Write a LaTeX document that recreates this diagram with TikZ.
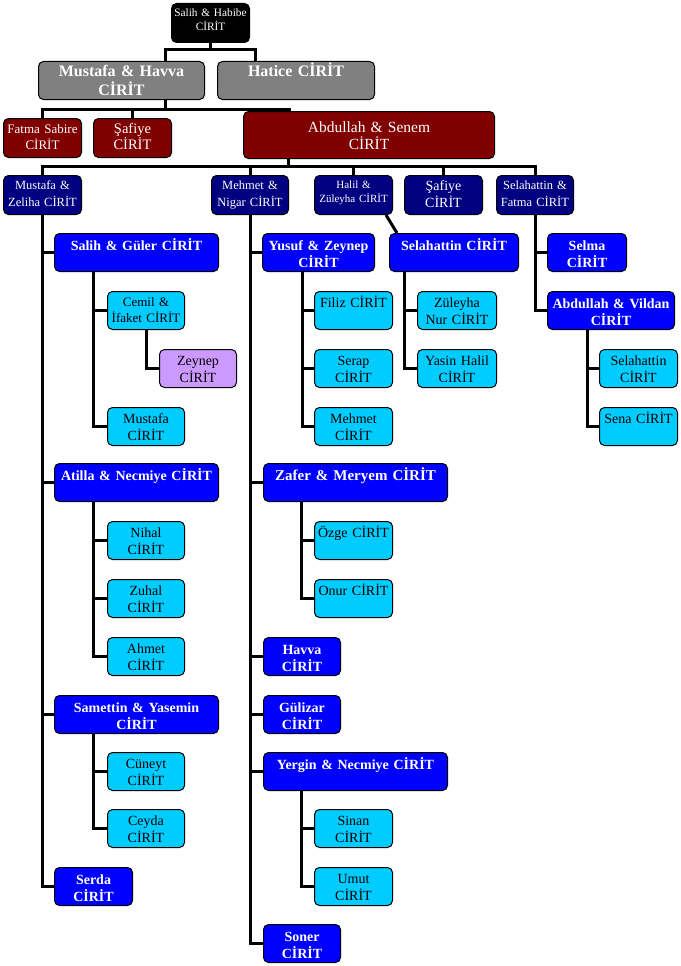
\documentclass[tikz,border=0pt]{standalone}
\usepackage{fontspec}
\setmainfont{Liberation Serif}
\usepackage{tikz}
\usetikzlibrary{calc}
\definecolor{famgray}{HTML}{808080}
\definecolor{maroon}{HTML}{800000}
\definecolor{famnavy}{HTML}{000080}
\definecolor{famblue}{HTML}{0000FF}
\definecolor{famcyan}{HTML}{00CCFF}
\definecolor{lilac}{HTML}{CC99FF}
\tikzset{
  fambox/.style={draw=black, line width=1pt, rounded corners=5pt, anchor=north west,
    inner xsep=2pt, inner ysep=0pt, align=center, text=white, text width=74pt},
  rootbox/.style={fambox, fill=black, font={\fontsize{11.3}{13.5}\selectfont},
    text height=13pt, text depth=26pt},
  graybox/.style={fambox, fill=famgray, font={\bfseries\fontsize{16}{18.5}\selectfont},
    text height=15pt, text depth=23pt},
  maroonbox/.style={fambox, fill=maroon, font={\fontsize{13}{16}\selectfont},
    text height=15pt, text depth=24pt},
  navybox/.style={fambox, fill=famnavy, font={\fontsize{12.5}{17}\selectfont},
    text height=14pt, text depth=25pt},
  bluebox/.style={fambox, fill=famblue, font={\bfseries\fontsize{14}{17}\selectfont},
    text height=17pt, text depth=21pt},
  cyanbox/.style={fambox, fill=famcyan, text=black, font={\fontsize{14}{17}\selectfont},
    text height=16pt, text depth=22pt},
  lilacbox/.style={cyanbox, fill=lilac},
  famline/.style={line width=3pt, black}
}
\begin{document}
\begin{tikzpicture}[x=1pt,y=-1pt]
\useasboundingbox (0,0) rectangle (680,966);
% grandparents and their children
\node[rootbox] (root) at (171,3) {Salih \& Habibe\\CİRİT};
\node[graybox, text width=162pt] (mh) at (38,61) {Mustafa \& Havva\\CİRİT};
\node[graybox, text width=153pt] (hatice) at (217,61) {Hatice CİRİT};
\node[maroonbox] (fatma) at (3,118) {Fatma Sabire\\CİRİT};
\node[maroonbox, font={\fontsize{14.5}{16}\selectfont}] (safiye1) at (93,118) {Şafiye\\CİRİT};
\node[maroonbox, text width=247pt, font={\fontsize{15.5}{17}\selectfont},
  text height=21pt, text depth=26pt] (abdullah) at (243,111) {Abdullah \& Senem\\CİRİT};
% children of Abdullah & Senem
\node[navybox] (mz) at (3,175) {Mustafa \&\\Zeliha CİRİT};
\node[navybox, text width=73pt] (mn) at (211,175) {Mehmet \&\\Nigar CİRİT};
\node[navybox, font={\fontsize{11}{13.5}\selectfont}, text height=13pt, text depth=26pt]
  (hz) at (314,175) {Halil \&\\Züleyha CİRİT};
\node[navybox, font={\fontsize{14}{17}\selectfont}, text height=15pt, text depth=24pt]
  (safiye2) at (404,175) {Şafiye\\CİRİT};
\node[navybox, text width=73pt] (sf) at (496,175) {Selahattin \&\\Fatma CİRİT};
% Mustafa & Zeliha branch
\node[bluebox, text width=160pt] (sg) at (54,233) {Salih \& Güler CİRİT};
\node[cyanbox, text width=73pt, font={\fontsize{13}{16}\selectfont}, text height=15pt, text depth=23pt]
  (cemil) at (107,291) {Cemil \&\\İfaket CİRİT};
\node[lilacbox, text width=73pt] (zeynep) at (159,349) {Zeynep\\CİRİT};
\node[cyanbox, text width=73pt] (mustafa2) at (107,407) {Mustafa\\CİRİT};
\node[bluebox, text width=160pt] (atilla) at (54,463) {Atilla \& Necmiye CİRİT};
\node[cyanbox, text width=73pt] (nihal) at (107,521) {Nihal\\CİRİT};
\node[cyanbox, text width=73pt] (zuhal) at (107,579) {Zuhal\\CİRİT};
\node[cyanbox, text width=73pt] (ahmet) at (107,637) {Ahmet\\CİRİT};
\node[bluebox, text width=160pt] (samettin) at (54,695) {Samettin \& Yasemin\\CİRİT};
\node[cyanbox, text width=73pt] (cuneyt) at (107,752) {Cüneyt\\CİRİT};
\node[cyanbox, text width=73pt] (ceyda) at (107,809) {Ceyda\\CİRİT};
\node[bluebox] (serda) at (54,867) {Serda\\CİRİT};
% Mehmet & Nigar branch
\node[bluebox, text width=108pt] (yusuf) at (262,233) {Yusuf \& Zeynep\\CİRİT};
\node[cyanbox] (filiz) at (314,291) {Filiz CİRİT};
\node[cyanbox] (serap) at (314,349) {Serap\\CİRİT};
\node[cyanbox] (mehmet2) at (314,407) {Mehmet\\CİRİT};
\node[bluebox, text width=180pt, font={\bfseries\fontsize{15}{17}\selectfont}] (zafer) at (263,463) {Zafer \& Meryem CİRİT};
\node[cyanbox] (ozge) at (314,521) {Özge CİRİT};
\node[cyanbox] (onur) at (314,579) {Onur CİRİT};
\node[bluebox, text width=73pt] (havva) at (263,637) {Havva\\CİRİT};
\node[bluebox, text width=73pt] (gulizar) at (263,695) {Gülizar\\CİRİT};
\node[bluebox, text width=180pt] (yergin) at (263,752) {Yergin \& Necmiye CİRİT};
\node[cyanbox] (sinan) at (314,809) {Sinan\\CİRİT};
\node[cyanbox] (umut) at (314,867) {Umut\\CİRİT};
\node[bluebox, text width=73pt] (soner) at (263,924) {Soner\\CİRİT};
% Halil & Züleyha branch
\node[bluebox, text width=125pt] (selahattin) at (389,233) {Selahattin CİRİT};
\node[cyanbox, text width=75pt] (zn) at (417,291) {Züleyha\\Nur CİRİT};
\node[cyanbox, text width=75pt] (yh) at (417,349) {Yasin Halil\\CİRİT};
% Selahattin & Fatma branch
\node[bluebox, text width=75pt] (selma) at (547,233) {Selma\\CİRİT};
\node[bluebox, text width=123pt] (av) at (547,291) {Abdullah \& Vildan\\CİRİT};
\node[cyanbox] (sel2) at (599,349) {Selahattin\\CİRİT};
\node[cyanbox] (sena) at (599,407) {Sena CİRİT};

% connectors, top levels
\draw[famline] (root.south) -- (root.south |- 0,50);
\draw[famline] ([xshift=127pt]mh.north west) |- (root.south |- 0,50) -| ([xshift=38pt]hatice.north west);
\draw[famline] ([xshift=127pt]mh.south west) -- ++(0,9) coordinate (mhbar);
\draw[famline] (fatma.north) |- (mhbar) -| ([xshift=46pt]abdullah.north west);
\draw[famline] (safiye1.north) -- (safiye1.north |- mhbar);
\draw[famline] ([xshift=45pt]abdullah.south west) -- ++(0,7) coordinate (asbar);
\draw[famline] (mz.north) |- (asbar) -| (sf.north);
\foreach \n in {mn,hz,safiye2}
  \draw[famline] (\n.north) -- (\n.north |- asbar);
% Mustafa & Zeliha
\draw[famline] (mz.south) |- (serda.west);
\foreach \n in {sg,atilla,samettin}
  \draw[famline] (\n.west) -- (\n.west -| mz.south);
\draw[famline] ([xshift=39pt]sg.south west) coordinate (sgt) |- (mustafa2.west);
\draw[famline] (cemil.west) -- (cemil.west -| sgt);
\draw[famline] (cemil.south) |- (zeynep.west);
\draw[famline] ([xshift=39pt]atilla.south west) coordinate (att) |- (ahmet.west);
\foreach \n in {nihal,zuhal}
  \draw[famline] (\n.west) -- (\n.west -| att);
\draw[famline] ([xshift=39pt]samettin.south west) coordinate (smt) |- (ceyda.west);
\draw[famline] (cuneyt.west) -- (cuneyt.west -| smt);
% Mehmet & Nigar
\draw[famline] (mn.south) |- (soner.west);
\foreach \n in {yusuf,zafer,havva,gulizar,yergin}
  \draw[famline] (\n.west) -- (\n.west -| mn.south);
\draw[famline] ([xshift=40pt]yusuf.south west) coordinate (yst) |- (mehmet2.west);
\foreach \n in {filiz,serap}
  \draw[famline] (\n.west) -- (\n.west -| yst);
\draw[famline] ([xshift=38pt]zafer.south west) coordinate (zft) |- (onur.west);
\draw[famline] (ozge.west) -- (ozge.west -| zft);
\draw[famline] ([xshift=38pt]yergin.south west) coordinate (ygt) |- (umut.west);
\draw[famline] (sinan.west) -- (sinan.west -| ygt);
% Halil & Züleyha
\draw[famline] ([xshift=-7pt]hz.south east) -- ([xshift=8pt]selahattin.north west);
\draw[famline] ([xshift=15pt]selahattin.south west) coordinate (slt) |- (yh.west);
\draw[famline] (zn.west) -- (zn.west -| slt);
% Selahattin & Fatma
\draw[famline] (sf.south) |- (av.west);
\draw[famline] (selma.west) -- (selma.west -| sf.south);
\draw[famline] ([xshift=40pt]av.south west) coordinate (avt) |- (sena.west);
\draw[famline] (sel2.west) -- (sel2.west -| avt);
\end{tikzpicture}
\end{document}
